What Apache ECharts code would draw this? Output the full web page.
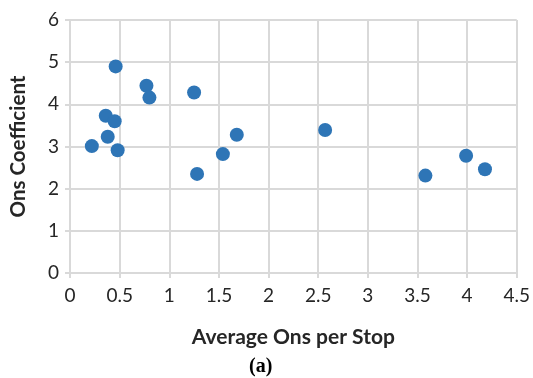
<!DOCTYPE html>
<html>
<head>
<meta charset="utf-8">
<script src="https://cdn.jsdelivr.net/npm/echarts@6/dist/echarts.min.js"></script>
<style>
  html, body { margin: 0; padding: 0; background: #fff; }
  #chart { width: 533px; height: 378px; }
</style>
</head>
<body>
<div id="chart"></div>
<script>
// 平均上车人数 / 系数
const onsPerStop = [0.22, 0.36, 0.38, 0.45, 0.48, 0.46, 0.77, 0.80, 1.25, 1.28, 1.54, 1.68, 2.57, 3.58, 3.99, 4.18];
const onsCoef = [3.01, 3.73, 3.23, 3.60, 2.91, 4.90, 4.44, 4.16, 4.28, 2.35, 2.82, 3.28, 3.39, 2.31, 2.78, 2.46];
const xTicks = [0, 0.5, 1, 1.5, 2, 2.5, 3, 3.5, 4, 4.5];
const yTicks = [0, 1, 2, 3, 4, 5, 6];

const points = onsPerStop.map((x, i) => [x, onsCoef[i]]);
const font = "Lato, 'Open Sans', sans-serif";

const chart = echarts.init(document.getElementById("chart"));
chart.setOption({
  animation: false,
  grid: { left: 69, right: 14, top: 20, bottom: 105 },
  xAxis: {
    type: "value",
    min: xTicks[0],
    max: xTicks[xTicks.length - 1],
    interval: 0.5,
    name: "Average Ons per Stop",
    nameLocation: "middle",
    nameGap: 54,
    nameTextStyle: { fontFamily: font, fontWeight: "bold", fontSize: 21, color: "#262626" },
    axisLine: { lineStyle: { color: "#d9d9d9", width: 2 } },
    axisTick: { show: true, length: 5, lineStyle: { color: "#d9d9d9", width: 2 } },
    splitLine: { lineStyle: { color: "#d9d9d9", width: 2 } },
    axisLabel: { fontFamily: font, fontSize: 19, color: "#262626", margin: 13 },
  },
  yAxis: {
    type: "value",
    min: yTicks[0],
    max: yTicks[yTicks.length - 1],
    interval: 1,
    name: "Ons Coefficient",
    nameLocation: "middle",
    nameGap: 41,
    nameRotate: 90,
    nameTextStyle: { fontFamily: font, fontWeight: "bold", fontSize: 20.5, color: "#262626" },
    axisLine: { show: true, lineStyle: { color: "#d9d9d9", width: 2 } },
    axisTick: { show: true, length: 5, lineStyle: { color: "#d9d9d9", width: 2 } },
    splitLine: { lineStyle: { color: "#d9d9d9", width: 2 } },
    axisLabel: { fontFamily: font, fontSize: 19, color: "#262626", margin: 11 },
  },
  graphic: [
    {
      type: "text",
      left: 249,
      top: 357,
      style: { text: "(a)", font: "bold 20px 'Liberation Serif', serif", fill: "#000" },
    },
  ],
  series: [
    {
      type: "scatter",
      data: points,
      symbolSize: 14,
      itemStyle: { color: "#2e75b6", opacity: 1 },
    },
  ],
});
</script>
</body>
</html>
